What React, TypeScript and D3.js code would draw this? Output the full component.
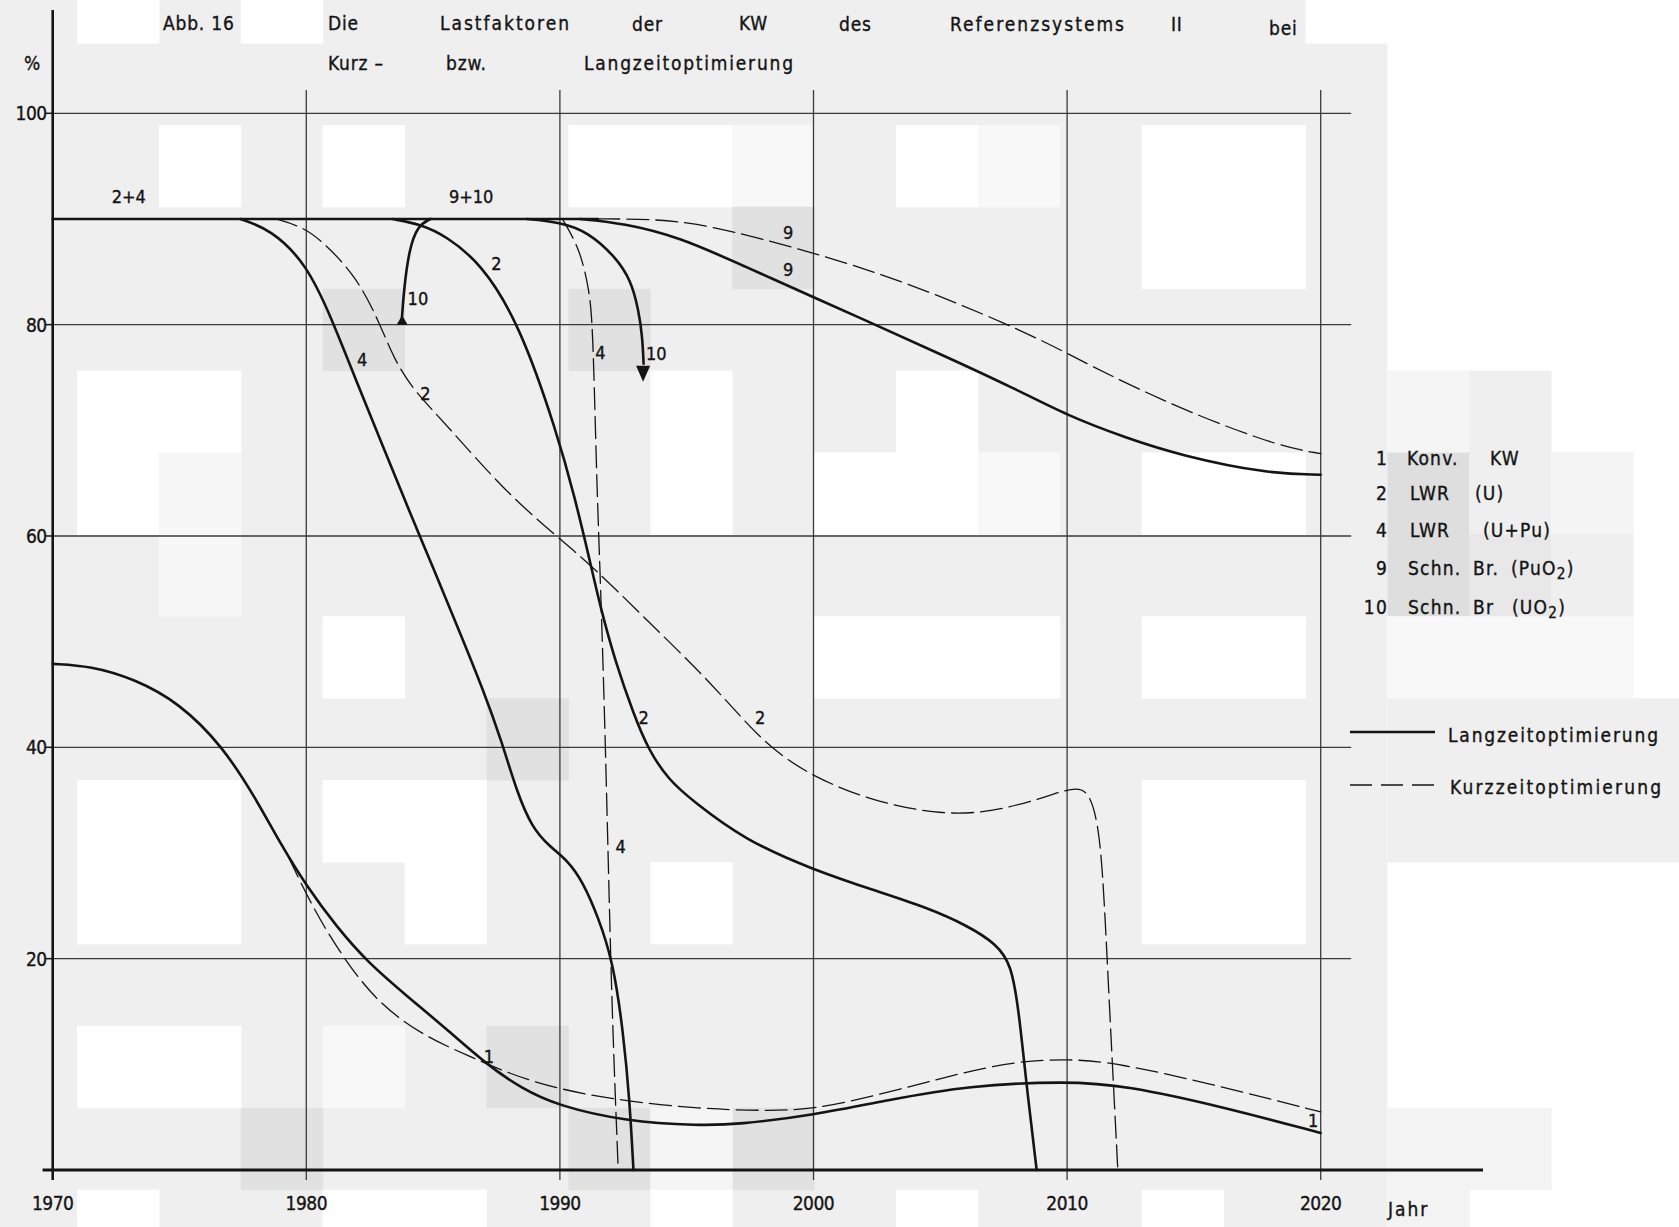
import React from 'react';
import * as d3 from 'd3';

const W = 1679;
const H = 1227;
const FONT = "'DejaVu Sans Condensed', 'Liberation Sans Narrow', 'DejaVu Sans', sans-serif";
const INK = '#141414';

type Pt = [number, number];

// ---- data: year, load factor in % ----
const plateau: Pt[] = [[1970, 90], [1991.5, 90]];

const konvLang: Pt[] = [
  [1970, 47.9], [1971.5, 47.7], [1973.2, 46.5], [1975.0, 44.2], [1976.7, 40.1], [1978.0, 35.2],
  [1979.0, 30.8], [1980.0, 26.9], [1981.2, 23.0], [1982.4, 19.7], [1984.0, 16.4], [1985.5, 13.4],
  [1987.1, 10.0], [1988.5, 7.7], [1989.9, 6.1], [1992.6, 4.6], [1995.5, 4.2], [1997, 4.3],
  [2000, 5.2], [2002.9, 6.6], [2006.1, 8.0], [2010, 8.4], [2012.3, 8.0], [2016.1, 6.0], [2020, 3.5],
];
const konvKurz: Pt[] = [
  [1979.3, 29.6], [1980.3, 24.6], [1981.5, 19.9], [1982.9, 15.6], [1984.7, 12.6], [1986.4, 10.8],
  [1988, 9.1], [1990, 7.6], [1992.6, 6.5], [1995.5, 5.8], [1998, 5.6], [2000, 5.7],
  [2002.9, 7.3], [2005.5, 9.0], [2008, 10.3], [2010, 10.5], [2011.9, 10.2], [2016.1, 7.9], [2020, 5.5],
];
const lwrULang: Pt[] = [
  [1983.4, 90], [1984.5, 89.5], [1985.5, 88.4], [1986.9, 85.8], [1988.4, 80.1], [1989.9, 69.7],
  [1990.6, 63.5], [1991.1, 58.5], [1991.6, 53.2], [1992.2, 48.0], [1992.9, 43.2],
  [1993.5, 39.7], [1994.3, 36.9], [1995.2, 35.0], [1997.3, 31.2], [2000, 28.4], [2002.6, 26.3],
  [2004.4, 24.9], [2006.1, 23.1], [2007.2, 21.4], [2007.8, 19.5], [2008.1, 15], [2008.4, 8], [2008.8, 0],
];
const lwrUKurz: Pt[] = [
  [1978.8, 90], [1979.8, 89.3], [1980.6, 88], [1982, 84.5], [1982.9, 80.1], [1983.5, 76.5],
  [1984.3, 73.6], [1985.5, 70.6], [1987.8, 64.3], [1989.9, 59.9], [1991.3, 57.1], [1993.4, 52.1],
  [1996.1, 45.8], [1998.0, 40.4], [2000, 37.1], [2002.6, 34.7], [2005.2, 33.6],
  [2007.0, 33.9], [2008.8, 35], [2010.3, 36.3], [2010.9, 35.8], [2011.3, 32], [2011.5, 24],
  [2011.7, 14], [2012.0, 0],
];
const lwrUPuLang: Pt[] = [
  [1977.4, 90], [1978.6, 89.0], [1980, 85.8], [1981, 80.6], [1982, 74.5], [1983, 68.6],
  [1984, 62.7], [1985, 57.0], [1986, 51.2], [1987, 45.3], [1987.7, 40.6], [1988.3, 35.8],
  [1988.9, 32.4], [1989.6, 30.6], [1990.3, 29.3], [1990.9, 27.3], [1991.5, 24.0], [1992.1, 19.7],
  [1992.5, 13], [1992.75, 6.6], [1992.9, 0],
];
const lwrUPuKurz: Pt[] = [
  [1990.1, 90], [1990.8, 87.1], [1991.15, 83.3], [1991.3, 80.1], [1991.45, 65], [1991.6, 55.8],
  [1991.8, 40.1], [1992.0, 19.7], [1992.15, 9], [1992.3, 0],
];
const brPuLang: Pt[] = [
  [1990.8, 90], [1992.5, 89.6], [1994.7, 88.3], [1997.3, 85.5], [2000.1, 82.5], [2002.6, 79.8],
  [2005.2, 77], [2007.9, 74], [2010, 71.4], [2012.3, 69.3], [2014.5, 67.6], [2017.9, 65.9], [2020, 65.8],
];
const brPuKurz: Pt[] = [
  [1991.5, 90], [1993.5, 90], [1995.6, 89.6], [1999.6, 87.1], [2003.5, 84.2], [2007.9, 79.8],
  [2010, 77.3], [2012, 74.8], [2015.2, 71.3], [2018.5, 68.4], [2020, 67.8],
];
// Schn. Br. (UO2): rising branch and falling branch, both ending in arrowheads
const brURise: Pt[] = [
  [1983.77, 80.6], [1983.85, 83.3], [1984.05, 87.1], [1984.4, 89.4], [1984.9, 90],
];
const brUFall: Pt[] = [
  [1988.7, 90], [1990.0, 89.7], [1991.1, 88.8], [1992.2, 86.4], [1992.8, 84.2], [1993.1, 81.4],
  [1993.25, 78.9], [1993.3, 76.3],
];

const series: { pts: Pt[]; dashed: boolean }[] = [
  { pts: plateau, dashed: false },
  { pts: konvKurz, dashed: true },
  { pts: lwrUKurz, dashed: true },
  { pts: lwrUPuKurz, dashed: true },
  { pts: brPuKurz, dashed: true },
  { pts: konvLang, dashed: false },
  { pts: lwrULang, dashed: false },
  { pts: lwrUPuLang, dashed: false },
  { pts: brPuLang, dashed: false },
  { pts: brURise, dashed: false },
  { pts: brUFall, dashed: false },
];

// Curve annotations: text, year, value
const curveLabels: [string, number, number][] = [
  ['2+4', 1973.0, 92.1], ['9+10', 1986.5, 92.1],
  ['2', 1987.5, 85.8], ['10', 1984.4, 82.5], ['4', 1982.2, 76.7], ['2', 1984.7, 73.5],
  ['4', 1991.6, 77.4], ['10', 1993.8, 77.3], ['9', 1999.0, 88.7], ['9', 1999.0, 85.2],
  ['2', 1993.3, 42.8], ['2', 1997.9, 42.8], ['4', 1992.4, 30.6],
  ['1', 1987.2, 10.7], ['1', 2019.7, 4.7],
];

const yTicks = [20, 40, 60, 80, 100];
const xTicks = [1970, 1980, 1990, 2000, 2010, 2020];
const gridYears = [1980, 1990, 2000, 2010, 2020];

const legendIds = ['1', '2', '4', '9', '10'];
const legendNames: string[][] = [
  ['Konv.', 'KW'], ['LWR', '(U)'], ['LWR', '(U+Pu)'], ['Schn.', 'Br.', '(PuO|2|)'], ['Schn.', 'Br', '(UO|2|)'],
];
const modeNames = ['Langzeitoptimierung', 'Kurzzeitoptimierung'];

// ---- layout ----
const x = d3.scaleLinear().domain([1970, 2020]).range([52.7, 1320.7]);
const y = d3.scaleLinear().domain([0, 100]).range([1170, 113.3]);

// scanned paper tones, laid out on a coarse block grid
const B = 81.9;
const BX = 77;
const BY = 43;
const WHITE = '#ffffff';
const LIGHT = '#f8f8f8';
const DARK = '#e1e1e1';
const paperCells: [number, number, number, number, string][] = [
  [0, -1, 1, 1, WHITE], [2, -1, 1, 1, WHITE], [15, -1, 5, 1, WHITE],
  [1, 1, 1, 1, WHITE], [3, 1, 1, 1, WHITE], [6, 1, 2, 1, WHITE], [8, 1, 1, 1, LIGHT],
  [10, 1, 1, 1, WHITE], [11, 1, 1, 1, LIGHT], [13, 1, 2, 2, WHITE],
  [8, 2, 1, 1, DARK], [3, 3, 1, 1, DARK], [6, 3, 1, 1, DARK],
  [0, 4, 2, 1, WHITE], [7, 4, 1, 1, WHITE], [10, 4, 1, 1, WHITE],
  [0, 5, 1, 1, WHITE], [1, 5, 1, 2, '#f7f7f7'], [7, 5, 1, 1, WHITE], [9, 5, 2, 1, WHITE],
  [11, 5, 1, 1, LIGHT], [13, 5, 2, 1, WHITE],
  [3, 7, 1, 1, WHITE], [9, 7, 3, 1, WHITE], [13, 7, 2, 1, WHITE],
  [5, 8, 1, 1, DARK],
  [0, 9, 2, 2, WHITE], [3, 9, 1, 1, WHITE], [4, 9, 1, 2, WHITE], [13, 9, 2, 2, WHITE], [7, 10, 1, 1, WHITE],
  [0, 12, 2, 1, WHITE], [3, 12, 1, 1, LIGHT], [5, 12, 1, 1, DARK],
  [2, 13, 1, 1, DARK], [6, 13, 1, 1, DARK], [8, 13, 1, 1, DARK], [7, 13, 1, 1, '#f5f5f5'],
  [0, 14, 1, 1, WHITE], [3, 14, 2, 1, WHITE], [7, 14, 1, 1, WHITE], [10, 14, 1, 1, WHITE], [13, 14, 1, 1, WHITE],
  [16, 4, 1, 1, '#f5f5f5'], [17, 4, 1, 1, '#efefef'],
  [16, 5, 1, 2, '#dedede'], [17, 5, 1, 1, '#efefef'], [18, 5, 1, 1, '#f4f4f4'],
  [17, 6, 1, 1, '#e8e8e8'], [18, 6, 1, 1, '#efefef'],
  [16, 7, 3, 1, '#f8f8f8'], [16, 8, 4, 2, '#efefef'],
  [16, 13, 2, 1, '#f3f3f3'], [16, 14, 1, 1, '#f3f3f3'],
];

// title words: text, x, width (0 = natural), centre y
const titleWords: [string, number, number, number][] = [
  ['Abb. 16', 163, 0, 23], ['Die', 328, 0, 23], ['Lastfaktoren', 440, 129, 23],
  ['der', 632, 0, 24], ['KW', 739, 0, 23], ['des', 839, 0, 24],
  ['Referenzsystems', 950, 174, 24], ['II', 1171, 0, 24], ['bei', 1269, 0, 28],
  ['Kurz –', 328, 0, 63], ['bzw.', 446, 0, 63], ['Langzeitoptimierung', 584, 209, 63],
];

const legendRowY = [458, 493, 530, 568, 607];
const legendColX = [[1407, 1490], [1410, 1475], [1410, 1483], [1408, 1473, 1511], [1408, 1473, 1512]];

const line = d3
  .line<Pt>()
  .x((d) => x(d[0]))
  .y((d) => y(d[1]))
  .curve(d3.curveBasis);

const textInk = { fill: INK, stroke: INK, strokeWidth: 0.35, fontFamily: FONT } as const;

function Word({ text, px, py, size = 19, anchor = 'start' }: { text: string; px: number; py: number; size?: number; anchor?: string }) {
  // "|2|" marks a subscript
  const parts = text.split('|');
  return (
    <text x={px} y={py} fontSize={size} {...textInk} textAnchor={anchor} dominantBaseline="central" letterSpacing={1.2}>
      {parts.map((p, i) =>
        i % 2 === 1 ? (
          <tspan key={i} fontSize={size * 0.8} dy={6}>{p}</tspan>
        ) : (
          <tspan key={i} dy={i > 0 ? -6 : 0}>{p}</tspan>
        ),
      )}
    </text>
  );
}

export default function App() {
  const x0 = x(1970);
  const y0 = y(0);
  const gridRight = x(2021.2);
  const gridTop = y(102.2);
  const tickBottom = y0 + 10;

  const arrowUp = [
    [x(1983.78), y(80.9)],
    [x(1983.78) - 5.5, y(80.0)],
    [x(1983.78) + 5.5, y(80.0)],
  ];
  const arrowDown = [
    [x(1993.28), y(74.6)],
    [x(1993.28) - 7, y(76.1)],
    [x(1993.28) + 7, y(76.1)],
  ];

  return (
    <svg width={W} height={H} style={{ position: 'absolute', left: 0, top: 0, display: 'block' }}>
      <rect x={0} y={0} width={W} height={H} fill="#ffffff" />
      <rect x={0} y={0} width={BX + 16 * B} height={H} fill="#efefef" />
      {paperCells.map(([c, r, cs, rs, fill], i) => (
        <rect key={i} x={BX + c * B} y={BY + r * B} width={cs * B + 0.5} height={rs * B + 0.5} fill={fill} />
      ))}

      {/* title */}
      {titleWords.map(([t, tx, tw, ty], i) => (
        <text
          key={i}
          x={tx}
          y={ty}
          fontSize={19}
          {...textInk}
          dominantBaseline="central"
          letterSpacing={tw ? undefined : 0.8}
          textLength={tw || undefined}
          lengthAdjust={tw ? 'spacing' : undefined}
        >
          {t}
        </text>
      ))}
      <text x={32} y={63} fontSize={19} {...textInk} textAnchor="middle" dominantBaseline="central">%</text>

      {/* grid */}
      {yTicks.map((v) => (
        <g key={v}>
          <line x1={x0} x2={gridRight} y1={y(v)} y2={y(v)} stroke="#3a3a3a" strokeWidth={1.3} />
          <line x1={x0 - 7} x2={x0} y1={y(v)} y2={y(v)} stroke={INK} strokeWidth={1.5} />
          <text x={x0 - 6} y={y(v)} fontSize={19} {...textInk} textAnchor="end" dominantBaseline="central" letterSpacing={-0.5}>
            {v}
          </text>
        </g>
      ))}
      {gridYears.map((yr) => (
        <line key={yr} x1={x(yr)} x2={x(yr)} y1={gridTop} y2={tickBottom} stroke="#3a3a3a" strokeWidth={1.3} />
      ))}
      <line x1={x0} x2={x0} y1={10} y2={tickBottom} stroke={INK} strokeWidth={2.6} />
      <line x1={x(1969.6)} x2={x(2026.4)} y1={y0} y2={y0} stroke={INK} strokeWidth={2.8} />
      {xTicks.map((yr) => (
        <text key={yr} x={x(yr)} y={1203} fontSize={19} {...textInk} textAnchor="middle" dominantBaseline="central" letterSpacing={-0.5}>
          {yr}
        </text>
      ))}
      <text x={1388} y={1209} fontSize={19} {...textInk} dominantBaseline="central" letterSpacing={2}>Jahr</text>

      {/* curves */}
      {series.map((s, i) => (
        <path
          key={i}
          d={line(s.pts) ?? ''}
          fill="none"
          stroke={INK}
          strokeWidth={s.dashed ? 1.3 : 2.6}
          strokeDasharray={s.dashed ? '22 7' : undefined}
          strokeLinejoin="round"
          strokeLinecap="round"
        />
      ))}
      <polygon points={arrowUp.map((p) => p.join(',')).join(' ')} fill={INK} />
      <polygon points={arrowDown.map((p) => p.join(',')).join(' ')} fill={INK} />

      {curveLabels.map(([t, yr, v], i) => (
        <text key={i} x={x(yr)} y={y(v)} fontSize={18} {...textInk} textAnchor="middle" dominantBaseline="central">
          {t}
        </text>
      ))}

      {/* legend */}
      {legendIds.map((id, i) => (
        <g key={id}>
          <Word text={id} px={1388} py={legendRowY[i]} anchor="end" />
          {legendNames[i].map((n, j) => (
            <Word key={j} text={n} px={legendColX[i][j]} py={legendRowY[i]} />
          ))}
        </g>
      ))}
      <line x1={1350} x2={1435} y1={732} y2={732} stroke={INK} strokeWidth={2.5} />
      <line x1={1350} x2={1435} y1={785} y2={785} stroke={INK} strokeWidth={1.4} strokeDasharray="22 9" />
      <text x={1448} y={735} fontSize={19} {...textInk} dominantBaseline="central" textLength={210} lengthAdjust="spacing">
        {modeNames[0]}
      </text>
      <text x={1450} y={787} fontSize={19} {...textInk} dominantBaseline="central" textLength={211} lengthAdjust="spacing">
        {modeNames[1]}
      </text>
    </svg>
  );
}
